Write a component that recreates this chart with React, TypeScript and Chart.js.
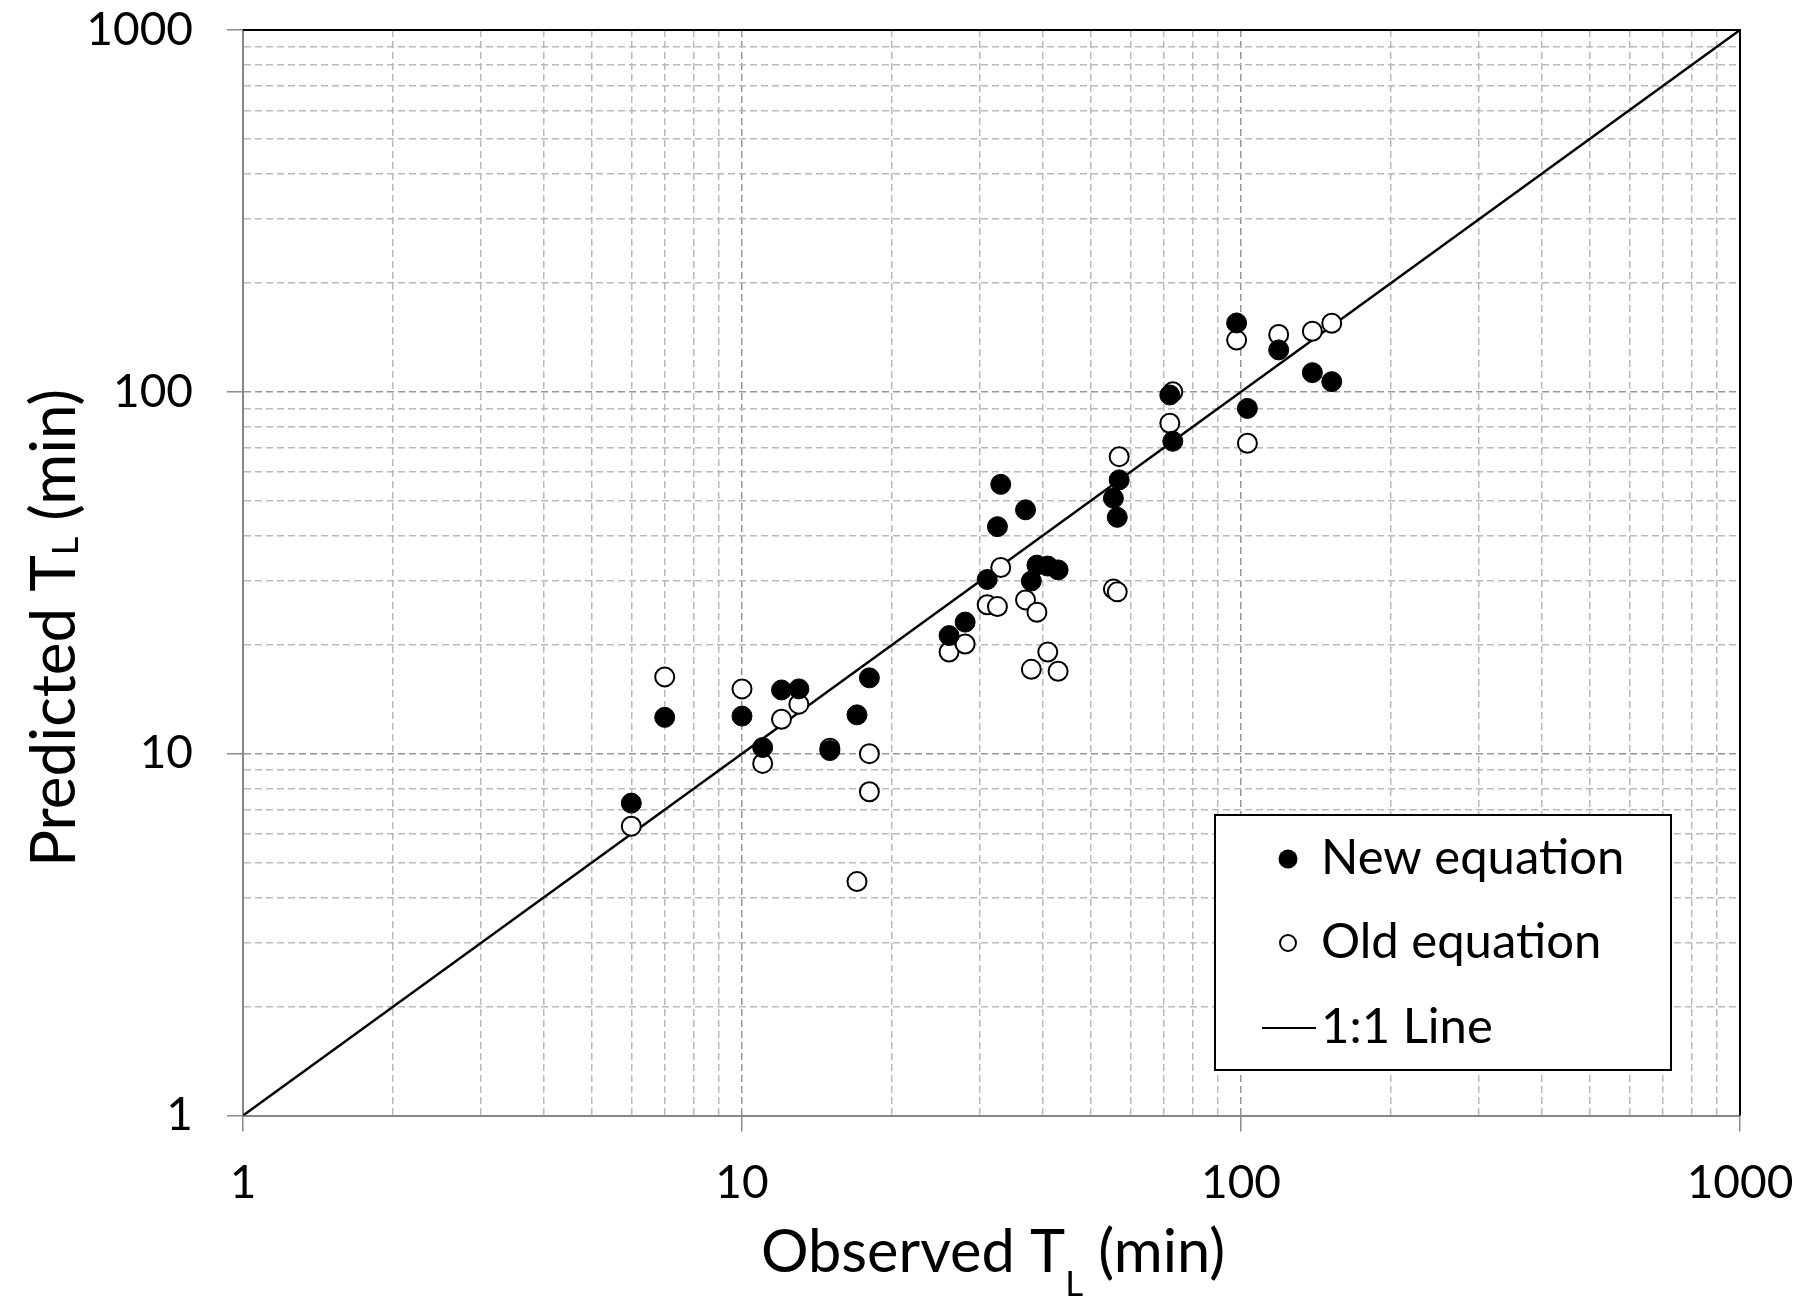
import React, { useEffect, useRef } from "react";
import { Chart, registerables } from "chart.js";

Chart.register(...registerables);

// ---- Data ----
const newObserved = [6, 7, 10, 11, 12, 13, 15, 17, 18, 26, 28, 31, 32.5, 33, 37, 38, 39, 41, 43, 55.5, 57, 56.5, 72, 73, 98, 103, 119, 139, 152];
const newPredicted = [7.3, 12.6, 12.7, 10.4, 15, 15.1, 10.2, 12.8, 16.2, 21.2, 23.1, 30.3, 42.4, 55.5, 47.2, 30, 33.2, 33, 32.2, 50.8, 57.1, 45, 98, 73, 155, 90, 130.6, 113, 106.7];
const oldObserved = [6, 7, 10, 11, 12, 13, 15, 17, 18, 18, 26, 28, 31, 32.5, 33, 37, 38, 39, 41, 43, 55.5, 56.5, 57, 72, 73, 98, 103, 119, 139, 152];
const oldPredicted = [6.3, 16.3, 15.1, 9.4, 12.45, 13.7, 10.35, 4.43, 10, 7.85, 19.1, 20.1, 25.8, 25.5, 32.7, 26.6, 17.1, 24.6, 19.1, 16.9, 28.5, 28, 66.2, 81.9, 100, 139, 72.1, 144, 147, 154.7];
const lineX = [1, 1000];
const lineY = [1, 1000];

const majorTicks = [1, 10, 100, 1000];
const minorSteps = [2, 3, 4, 5, 6, 7, 8, 9];

const xTitleParts = ["Observed T", "L", " (min)"];
const yTitleParts = ["Predicted T", "L", " (min)"];
const legendLabels = ["New equation", "Old equation", "1:1 Line"];

const allTicks: number[] = [];
majorTicks.forEach((m, i) => {
  allTicks.push(m);
  if (i < majorTicks.length - 1) minorSteps.forEach((s) => allTicks.push(m * s));
});

const FONT = "Lato, 'Open Sans', 'DejaVu Sans', sans-serif";

function drawSubText(
  ctx: CanvasRenderingContext2D,
  parts: string[],
  cx: number,
  baseY: number,
  mainSize: number,
  subSize: number,
  subOffset: number
) {
  ctx.font = `${mainSize}px ${FONT}`;
  const w1 = ctx.measureText(parts[0]).width;
  const w3 = ctx.measureText(parts[2]).width;
  ctx.font = `${subSize}px ${FONT}`;
  const w2 = ctx.measureText(parts[1]).width;
  let x = cx - (w1 + w2 + w3) / 2;
  ctx.textAlign = "left";
  ctx.textBaseline = "alphabetic";
  ctx.fillStyle = "#000";
  ctx.font = `${mainSize}px ${FONT}`;
  ctx.fillText(parts[0], x, baseY);
  x += w1;
  ctx.font = `${subSize}px ${FONT}`;
  ctx.fillText(parts[1], x, baseY + subOffset);
  x += w2;
  ctx.font = `${mainSize}px ${FONT}`;
  ctx.fillText(parts[2], x, baseY);
}

const decor = {
  id: "decor",
  beforeDatasetsDraw(chart: any) {
    const { ctx, chartArea } = chart;
    ctx.save();
    ctx.strokeStyle = "#000";
    ctx.lineWidth = 2;
    ctx.beginPath();
    ctx.moveTo(chartArea.left, chartArea.top);
    ctx.lineTo(chartArea.right, chartArea.top);
    ctx.lineTo(chartArea.right, chartArea.bottom);
    ctx.stroke();
    ctx.restore();
  },
  afterDraw(chart: any) {
    const { ctx } = chart;
    ctx.save();
    // axis titles
    drawSubText(ctx, xTitleParts, 993, 1272, 59.5, 35, 24);
    ctx.save();
    ctx.translate(75, 628);
    ctx.rotate(-Math.PI / 2);
    drawSubText(ctx, yTitleParts, 0, 0, 62, 36, 3);
    ctx.restore();

    // legend
    const bx = 1215, by = 815, bw = 456, bh = 255;
    ctx.fillStyle = "#fff";
    ctx.fillRect(bx, by, bw, bh);
    ctx.strokeStyle = "#000";
    ctx.lineWidth = 2;
    ctx.strokeRect(bx, by, bw, bh);

    const rowBase = [874, 958, 1043];
    ctx.font = `49px ${FONT}`;
    ctx.fillStyle = "#000";
    ctx.textAlign = "left";
    ctx.textBaseline = "alphabetic";
    legendLabels.forEach((lab, i) => ctx.fillText(lab, 1321, rowBase[i]));

    ctx.beginPath();
    ctx.arc(1288, 859, 9.5, 0, Math.PI * 2);
    ctx.fillStyle = "#000";
    ctx.fill();

    ctx.beginPath();
    ctx.arc(1288, 943, 8, 0, Math.PI * 2);
    ctx.fillStyle = "#fff";
    ctx.fill();
    ctx.lineWidth = 2;
    ctx.strokeStyle = "#000";
    ctx.stroke();

    ctx.beginPath();
    ctx.moveTo(1262, 1028);
    ctx.lineTo(1316, 1028);
    ctx.lineWidth = 2;
    ctx.stroke();
    ctx.restore();
  },
};

const isMajor = (v: number) => majorTicks.some((m) => Math.abs(m - v) < 1e-9);

function axisOptions(kind: "x" | "y") {
  return {
    type: "logarithmic" as const,
    min: 1,
    max: 1000,
    position: kind === "x" ? "bottom" : "left",
    afterBuildTicks: (s: any) => {
      s.ticks = allTicks.map((v) => ({ value: v, major: isMajor(v) }));
    },
    afterFit: (s: any) => {
      if (kind === "x") s.height = 184.5;
      else s.width = 243;
      s.paddingTop = 0;
      s.paddingBottom = 0;
      s.paddingLeft = 0;
      s.paddingRight = 0;
    },
    title: { display: false },
    ticks: {
      autoSkip: false,
      maxRotation: 0,
      minRotation: 0,
      padding: kind === "x" ? 24 : 34,
      color: "#000",
      font: { family: FONT, size: 46 },
      callback: (v: any) => (isMajor(Number(v)) ? String(v) : ""),
    },
    grid: {
      color: (c: any) => (c.tick && isMajor(c.tick.value) ? "#959595" : "#bababa"),
      lineWidth: 1.5,
      tickLength: 16,
      tickWidth: 1.5,
      tickColor: (c: any) => (c.tick && isMajor(c.tick.value) ? "#8c8c8c" : "rgba(0,0,0,0)"),
    },
    border: { display: true, color: "#868686", width: 2, dash: [7, 4] },
  };
}

export default function App() {
  const ref = useRef<HTMLCanvasElement>(null);
  useEffect(() => {
    document.body.style.margin = "0";
    const canvas = ref.current!;
    const chart = new Chart(canvas, {
      type: "scatter",
      data: {
        datasets: [
          {
            label: legendLabels[0],
            data: newObserved.map((x, i) => ({ x, y: newPredicted[i] })),
            pointRadius: 10,
            pointHoverRadius: 10,
            pointBackgroundColor: "#000",
            pointBorderColor: "#000",
            pointBorderWidth: 1,
            order: 0,
          },
          {
            label: legendLabels[1],
            data: oldObserved.map((x, i) => ({ x, y: oldPredicted[i] })),
            pointRadius: 9.5,
            pointHoverRadius: 9.5,
            pointBackgroundColor: "#fff",
            pointBorderColor: "#000",
            pointBorderWidth: 2,
            order: 1,
          },
          {
            label: legendLabels[2],
            type: "line",
            data: lineX.map((x, i) => ({ x, y: lineY[i] })),
            showLine: true,
            borderColor: "#000",
            borderWidth: 2.5,
            pointRadius: 0,
            fill: false,
            order: 2,
          } as any,
        ],
      },
      options: {
        responsive: false,
        animation: false,
        devicePixelRatio: 1,
        layout: { padding: { left: 0, top: 30, right: 68, bottom: 0 } },
        plugins: { legend: { display: false }, tooltip: { enabled: false } },
        scales: {
          x: axisOptions("x") as any,
          y: axisOptions("y") as any,
        },
      },
      plugins: [decor],
    });
    return () => chart.destroy();
  }, []);

  return (
    <div style={{ width: 1808, height: 1300, background: "#fff" }}>
      <canvas ref={ref} width={1808} height={1300} style={{ width: 1808, height: 1300, display: "block" }} />
    </div>
  );
}
